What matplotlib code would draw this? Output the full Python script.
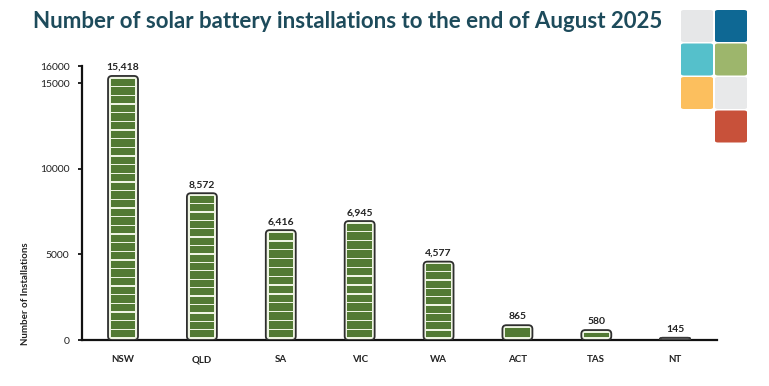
import matplotlib
matplotlib.use("Agg")
import matplotlib.pyplot as plt
from matplotlib.patches import FancyBboxPatch, Rectangle
import numpy as np

# ----------------------------------------------------------------------
#  Data
# ----------------------------------------------------------------------
states = ["NSW", "QLD", "SA", "VIC", "WA", "ACT", "TAS", "NT"]
installs = [15418, 8572, 6416, 6945, 4577, 865, 580, 145]
value_labels = ["15,418", "8,572", "6,416", "6,945", "4,577", "865", "580", "145"]
yticks = [0, 5000, 10000, 15000, 16000]

title = "Number of solar battery installations to the end of August 2025"

plt.rcParams['font.family'] = ['Lato', 'DejaVu Sans']

fig = plt.figure(figsize=(7.69, 3.86), dpi=100)
ax = fig.add_axes([82/769, 1 - 340/386, (717 - 82)/769, (340 - 66)/386])

x = np.arange(len(states))
ax.set_xlim(-0.52, 7.53)
ax.set_ylim(0, 16000)

bar_w = 0.38
dark = "#2e2e2e"
green = "#527a33"
gap_col = "#eef4e2"
seg = 500.0

for i, v in enumerate(installs):
    left = x[i] - bar_w/2
    if states[i] == "NT":
        box = FancyBboxPatch((left, 0), bar_w, v,
                             boxstyle="round,pad=0,rounding_size=0.03",
                             mutation_aspect=4500, fc="#5a5a5a", ec="#3a3a3a",
                             lw=1.0, zorder=3)
        ax.add_patch(box)
    else:
        box = FancyBboxPatch((left, 0), bar_w, v,
                             boxstyle="round,pad=0,rounding_size=0.05",
                             mutation_aspect=4500, fc=gap_col, ec=dark,
                             lw=1.3, zorder=3)
        ax.add_patch(box)
        # battery segments
        ix = 0.035
        iy = 110
        inner = v - 2*iy
        n = max(1, int(round(inner/seg)))
        h = inner/n
        for k in range(n):
            ax.add_patch(Rectangle((left + ix, iy + k*h + 40), bar_w - 2*ix, h - 80,
                                   fc=green, ec="none", zorder=4))
    ax.text(x[i], v + 230, value_labels[i], ha="center", va="bottom",
            fontsize=7.5, fontweight="bold", color="#222222")

ax.set_xticks(x)
ax.set_xticklabels(states, fontsize=7, fontweight="bold", color="#222222")
ax.tick_params(axis="x", length=0, pad=11)
ax.set_yticks(yticks)
ax.set_yticklabels([str(t) for t in yticks], fontsize=7.5, color="#222222")
ax.tick_params(axis="y", length=3, width=1.2, pad=6)

for s in ["top", "right"]:
    ax.spines[s].set_visible(False)
for s in ["left", "bottom"]:
    ax.spines[s].set_linewidth(1.6)
    ax.spines[s].set_color("#111111")

ax.set_ylabel("Number of Installations", fontsize=7, fontweight="bold",
              color="#222222")
ax.yaxis.set_label_coords(-0.082, 0.17)

fig.text(33/769, 1 - 22/386, title, fontsize=16, fontweight="bold",
         color="#1d4b5b", ha="left", va="center")

# logo squares
logo = [(0, 0, "#e6e7e8"), (1, 0, "#0e6894"),
        (0, 1, "#55c0cb"), (1, 1, "#9db66c"),
        (0, 2, "#fcbf5e"), (1, 2, "#e8e9ea"),
        (1, 3, "#c8513a")]
for c, r, col in logo:
    fx = (681 + c*34)/769
    fy = 1 - (10 + r*33.5 + 32)/386
    fig.patches.append(FancyBboxPatch((fx, fy), 32/769, 32/386,
                                      boxstyle="round,pad=0,rounding_size=0.004",
                                      transform=fig.transFigure, fc=col, ec="none"))

fig.savefig("out.png", dpi=100)
